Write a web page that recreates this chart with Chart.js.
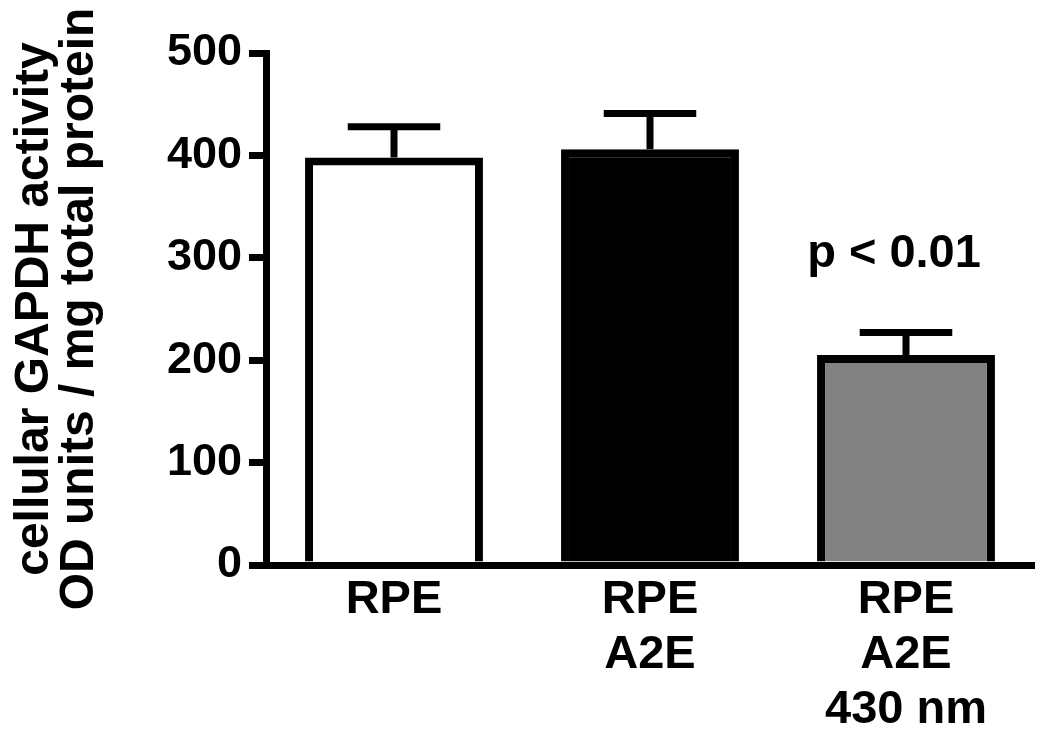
<!DOCTYPE html>
<html>
<head>
<meta charset="utf-8">
<script src="https://cdn.jsdelivr.net/npm/chart.js@4"></script>
<style>
    html, body { margin: 0; padding: 0; background: #fff; }
</style>
</head>
<body>
<canvas id="gapdhChart" width="1050" height="746"></canvas>
<script>
// Values
const categories = [['RPE'], ['RPE', 'A2E'], ['RPE', 'A2E', '430 nm']];
const meanValues = [398, 406, 205];
const semValues = [30, 35, 22];
const barFills = ['#ffffff', '#000000', '#818181'];
const yTicks = [0, 100, 200, 300, 400, 500];
const yTitleLines = ['cellular GAPDH activity', 'OD units / mg total protein'];
const pValueText = 'p < 0.01';
const pValueBar = 2;
const pValueLevel = 291;

const FONT = '"Liberation Sans", Arial, Helvetica, sans-serif';

// Upper-only error bars, GraphPad style
const errorBarPlugin = {
    id: 'errorBars',
    afterDatasetsDraw(chart) {
        const ctx = chart.ctx;
        const meta = chart.getDatasetMeta(0);
        const y = chart.scales.y;
        ctx.save();
        ctx.strokeStyle = '#000';
        ctx.lineWidth = 7;
        ctx.lineCap = 'butt';
        meta.data.forEach((bar, i) => {
            const top = y.getPixelForValue(meanValues[i]);
            const end = y.getPixelForValue(meanValues[i] + semValues[i]);
            const half = bar.width * 0.26;
            ctx.beginPath();
            ctx.moveTo(bar.x, top);
            ctx.lineTo(bar.x, end);
            ctx.moveTo(bar.x - half, end);
            ctx.lineTo(bar.x + half, end);
            ctx.stroke();
        });
        ctx.restore();
    }
};

// p-value note and the two-line y title
const textPlugin = {
    id: 'extraText',
    afterDraw(chart) {
        const ctx = chart.ctx;
        const area = chart.chartArea;
        const bar = chart.getDatasetMeta(0).data[pValueBar];
        ctx.save();
        ctx.fillStyle = '#000';
        ctx.font = 'bold 47px ' + FONT;
        ctx.textAlign = 'center';
        ctx.textBaseline = 'alphabetic';
        ctx.fillText(pValueText, bar.x - 12, chart.scales.y.getPixelForValue(pValueLevel));
        ctx.restore();

        ctx.save();
        ctx.fillStyle = '#000';
        ctx.font = 'bold 48px ' + FONT;
        ctx.textAlign = 'center';
        ctx.textBaseline = 'middle';
        ctx.translate(0, (area.top + area.bottom) / 2);
        ctx.rotate(-Math.PI / 2);
        yTitleLines.forEach((line, i) => {
            ctx.fillText(line, 0, 35 + i * 45);
        });
        ctx.restore();
    }
};

const ctx = document.getElementById('gapdhChart').getContext('2d');
new Chart(ctx, {
    type: 'bar',
    data: {
        labels: categories,
        datasets: [{
            data: meanValues,
            backgroundColor: barFills,
            borderColor: '#000',
            borderWidth: 8,
            borderSkipped: 'start',
            categoryPercentage: 1,
            barPercentage: 0.695
        }]
    },
    options: {
        responsive: false,
        animation: false,
        devicePixelRatio: 1,
        layout: { padding: { left: 106, right: 16, top: 53, bottom: 6 } },
        plugins: {
            legend: { display: false },
            tooltip: { enabled: false }
        },
        scales: {
            x: {
                z: 1,
                grid: { display: false, drawTicks: false },
                border: { display: true, color: '#000', width: 7 },
                ticks: {
                    color: '#000',
                    padding: 8,
                    font: { family: FONT, size: 47, weight: 'bold', lineHeight: 1.17 }
                },
                afterFit: s => { s.height = 175; }
            },
            y: {
                z: 1,
                min: 0,
                max: 500,
                afterBuildTicks: s => { s.ticks = yTicks.map(v => ({ value: v })); },
                grid: {
                    drawOnChartArea: false,
                    color: '#000',
                    lineWidth: 7,
                    tickLength: 17,
                    tickWidth: 7
                },
                border: { display: true, color: '#000', width: 7 },
                ticks: {
                    color: '#000',
                    padding: 7,
                    font: { family: FONT, size: 45, weight: 'bold' }
                },
                afterFit: s => { s.width = 160; }
            }
        }
    },
    plugins: [errorBarPlugin, textPlugin]
});
</script>
</body>
</html>
